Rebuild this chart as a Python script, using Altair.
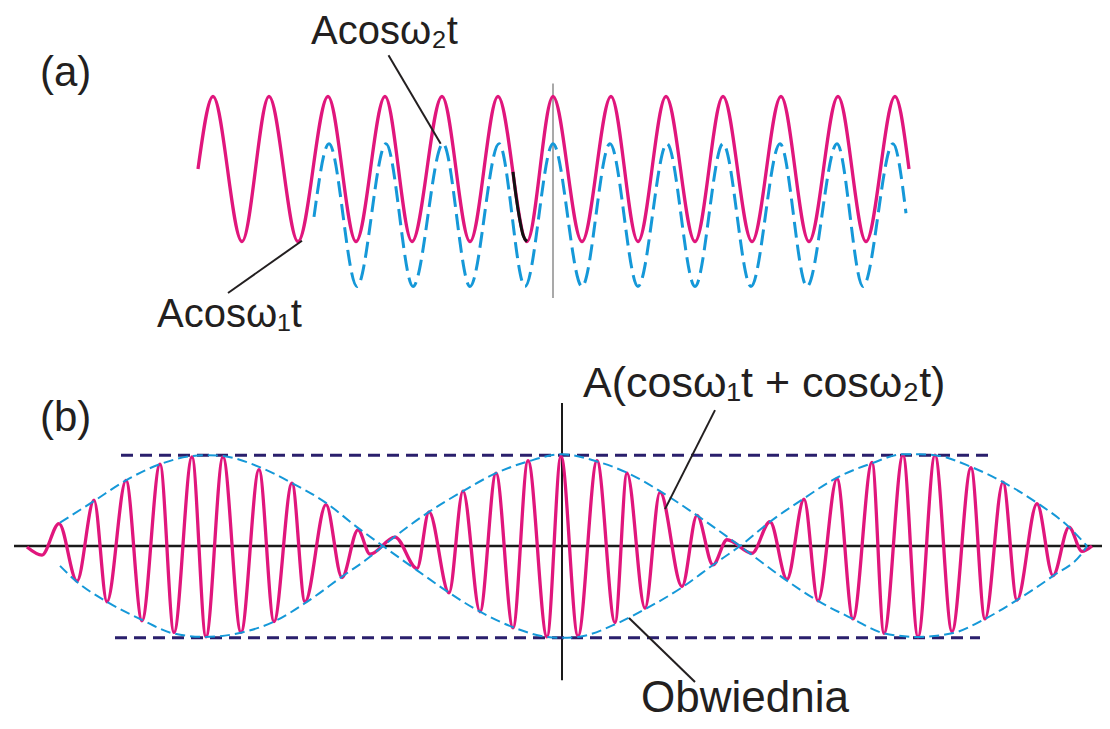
import altair as alt
import pandas as pd

# ---------------- Panel (a) : two separate cosines ----------------
# time in arbitrary units (0 at the vertical marker), amplitude in units of A
a_w1_t = [-35.5, -34.0, -31.1, -28.4, -25.5, -22.5, -19.7, -16.8, -14.1, -11.1, -8.3, -5.5, -2.6,
          0.0, 2.9, 5.8, 8.5, 11.3, 14.2, 17.0, 19.9, 22.8, 25.6, 28.5, 31.3, 34.2, 35.6]
a_w1_v = [0.0, 1.0, -1.0, 1.0, -1.0, 1.0, -1.0, 1.0, -1.0, 1.0, -1.0, 1.0, -1.0,
          1.0, -1.0, 1.0, -1.0, 1.0, -1.0, 1.0, -1.0, 1.0, -1.0, 1.0, -1.0, 1.0, 0.0]

a_w2_t = [-23.9, -22.4, -19.6, -16.7, -14.0, -11.0, -8.3, -5.4, -2.8, 0.0, 2.9, 5.7, 8.5,
          11.4, 14.2, 17.0, 19.8, 22.7, 25.4, 28.4, 31.0, 34.0, 35.3]
a_w2_v = [-0.66, 0.35, -1.62, 0.35, -1.62, 0.35, -1.62, 0.35, -1.62, 0.35, -1.62, 0.35, -1.62,
          0.35, -1.62, 0.35, -1.62, 0.35, -1.62, 0.35, -1.62, 0.35, -0.61]

a_mark_t = [-4.0, -3.7, -3.35, -3.0, -2.6]
a_mark_v = [-0.04, -0.37, -0.68, -0.91, -1.0]

# ---------------- Panel (b) : sum and envelope ----------------
b_sum_t = [-53.5, -52.0, -50.3, -48.5, -46.8, -45.5, -43.6, -42.0, -40.2, -38.8, -37.0, -35.6,
           -33.9, -32.1, -30.3, -28.8, -27.0, -25.7, -23.6, -22.0, -20.4, -19.2, -16.7, -14.5,
           -13.3, -11.3, -9.9, -8.2, -6.6, -4.9, -3.4, -1.5, -0.1, 1.6, 3.5, 5.3, 6.5, 8.3, 9.8,
           12.0, 13.5, 15.1, 16.5, 19.0, 20.8, 22.5, 24.2, 25.6, 27.5, 29.1, 31.0, 32.2, 34.1,
           35.6, 37.3, 39.0, 40.9, 42.3, 44.1, 45.5, 47.5, 49.1, 50.7, 52.0, 53.0]
b_sum_v = [-0.01, -0.10, 0.25, -0.39, 0.51, -0.62, 0.73, -0.83, 0.91, -0.96, 0.99, -1.01,
           0.99, -0.96, 0.85, -0.84, 0.70, -0.62, 0.46, -0.35, 0.18, -0.09, 0.10, -0.25,
           0.38, -0.52, 0.61, -0.73, 0.81, -0.91, 0.95, -1.01, 1.00, -1.00, 0.95, -0.85, 0.81,
           -0.69, 0.60, -0.45, 0.34, -0.21, 0.07, -0.08, 0.27, -0.37, 0.52, -0.61, 0.75, -0.81,
           0.93, -0.97, 1.01, -1.01, 1.01, -0.95, 0.87, -0.81, 0.71, -0.60, 0.47, -0.33, 0.21,
           -0.06, 0.00]

env1_t = [-50.2, -46.8, -43.6, -40.2, -37.0, -35.5, -33.9, -30.3, -27.0, -23.6, -20.5, -17.9,
          -14.5, -11.4, -8.2, -4.7, -1.5, 0.0, 1.6, 5.5, 8.5, 12.0, 15.1, 17.8, 20.8, 24.2,
          27.5, 31.0, 34.1, 35.7, 37.3, 40.9, 44.1, 47.5, 50.7, 52.5]
env1_v = [0.26, 0.50, 0.73, 0.91, 1.00, 1.01, 1.00, 0.88, 0.70, 0.48, 0.21, 0.00,
          -0.27, -0.51, -0.73, -0.91, -1.01, -1.02, -1.01, -0.86, -0.69, -0.46, -0.21, 0.00,
          0.27, 0.53, 0.76, 0.92, 1.02, 1.02, 1.01, 0.88, 0.71, 0.48, 0.21, 0.00]

env2_t = [-50.2, -48.7, -45.5, -42.0, -38.9, -35.7, -32.0, -28.8, -25.5, -22.0, -19.2, -17.9,
          -13.3, -9.9, -6.6, -3.4, 0.0, 3.5, 6.6, 9.8, 13.5, 17.8, 22.3, 25.6, 29.1, 32.2,
          35.6, 39.0, 42.3, 45.5, 49.0, 52.0, 52.5]
env2_v = [-0.22, -0.38, -0.62, -0.82, -0.97, -1.01, -0.96, -0.84, -0.62, -0.34, -0.12, 0.00,
          0.38, 0.61, 0.81, 0.94, 1.02, 0.94, 0.81, 0.61, 0.34, 0.00, -0.37, -0.61, -0.81, -0.97,
          -1.01, -0.97, -0.81, -0.60, -0.34, -0.08, 0.00]

# amplitude limits (+2A / -2A) lines: [t_start, t_end, level]
lim_top = [-44.1, 43.1, 1.01]
lim_bot = [-44.7, 41.8, -1.02]

labels_a = ["(a)", "Acosω₂t", "Acosω₁t"]
labels_a_t = [-51.3, -24.2, -39.6]
labels_a_v = [1.145, 1.724, -2.175]
labels_a_size = [42, 40, 40]

labels_b = ["(b)", "A(cosω₁t + cosω₂t)", "Obwiednia"]
labels_b_t = [-52.2, 2.1, 7.9]
labels_b_v = [1.28, 1.66, -1.847]
labels_b_size = [42, 43, 44]

# leader lines  [t1, v1, t2, v2]
lead_a = [[-16.45, 1.57, -11.23, 0.35], [-32.5, -1.71, -25.1, -0.99]]
lead_b = [[15.3, 1.51, 10.3, 0.41], [6.7, -0.80, 13.3, -1.51]]

marker_a = [0.0, 1.18, 0.0, -1.78]
axis_b = [-54.8, 0.0, 55.0, 0.0]
marker_b = [0.0, 1.59, 0.0, -1.49]

# ---------------- styles & scales ----------------
W, H = 1094, 713
PINK = "#e0167c"
BLUE = "#1598d8"
NAVY = "#2a1f6c"
INK = "#231f20"
FONT = "Liberation Sans"

xa = alt.Scale(domain=[-54.5, 54.9], nice=False, zero=False)
ya = alt.Scale(domain=[-7.614, 2.221], nice=False, zero=False)
xb = alt.Scale(domain=[-55.4, 54.0], nice=False, zero=False)
yb = alt.Scale(domain=[-1.944, 5.978], nice=False, zero=False)


def line(t, v, xs, ys, **kw):
    df = pd.DataFrame({"t": t, "v": v})
    return alt.Chart(df).mark_line(interpolate="monotone", **kw).encode(
        x=alt.X("t:Q", scale=xs, axis=None),
        y=alt.Y("v:Q", scale=ys, axis=None),
    )


def rules(segs, xs, ys, **kw):
    df = pd.DataFrame(segs, columns=["t1", "v1", "t2", "v2"])
    return alt.Chart(df).mark_rule(**kw).encode(
        x=alt.X("t1:Q", scale=xs, axis=None),
        x2="t2:Q",
        y=alt.Y("v1:Q", scale=ys, axis=None),
        y2="v2:Q",
    )


def texts(lbl, t, v, fs, xs, ys):
    df = pd.DataFrame({"t": t, "v": v, "label": lbl, "fs": fs})
    return alt.Chart(df).mark_text(
        align="left", baseline="alphabetic", font=FONT, color=INK
    ).encode(
        x=alt.X("t:Q", scale=xs, axis=None),
        y=alt.Y("v:Q", scale=ys, axis=None),
        text="label:N",
        size=alt.Size("fs:Q", scale=None, legend=None),
    )


layers = [
    # panel (a)
    rules([marker_a], xa, ya, color="#8c8c8c", strokeWidth=1.5),
    line(a_w2_t, a_w2_v, xa, ya, color=BLUE, strokeWidth=3, strokeDash=[16, 7]),
    line(a_w1_t, a_w1_v, xa, ya, color=PINK, strokeWidth=3.3),
    line(a_mark_t, a_mark_v, xa, ya, color="#111111", strokeWidth=3),
    rules(lead_a, xa, ya, color=INK, strokeWidth=2),
    texts(labels_a, labels_a_t, labels_a_v, labels_a_size, xa, ya),
    # panel (b)
    rules([axis_b], xb, yb, color="#1a1a1a", strokeWidth=2.5),
    rules([marker_b], xb, yb, color="#1a1a1a", strokeWidth=2),
    rules([[lim_top[0], lim_top[2], lim_top[1], lim_top[2]],
           [lim_bot[0], lim_bot[2], lim_bot[1], lim_bot[2]]],
          xb, yb, color=NAVY, strokeWidth=3, strokeDash=[12, 7]),
    line(b_sum_t, b_sum_v, xb, yb, color=PINK, strokeWidth=3.3),
    line(env1_t, env1_v, xb, yb, color=BLUE, strokeWidth=2, strokeDash=[10, 5]),
    line(env2_t, env2_v, xb, yb, color=BLUE, strokeWidth=2, strokeDash=[10, 5]),
    rules(lead_b, xb, yb, color=INK, strokeWidth=2),
    texts(labels_b, labels_b_t, labels_b_v, labels_b_size, xb, yb),
]

chart = (
    alt.layer(*layers)
    .resolve_scale(x="independent", y="independent")
    .properties(width=W, height=H, padding=0,
                autosize=alt.AutoSizeParams(type="none"))
    .configure_view(stroke=None)
)

chart.save("out.html", embed_options={"renderer": "svg", "actions": False})
